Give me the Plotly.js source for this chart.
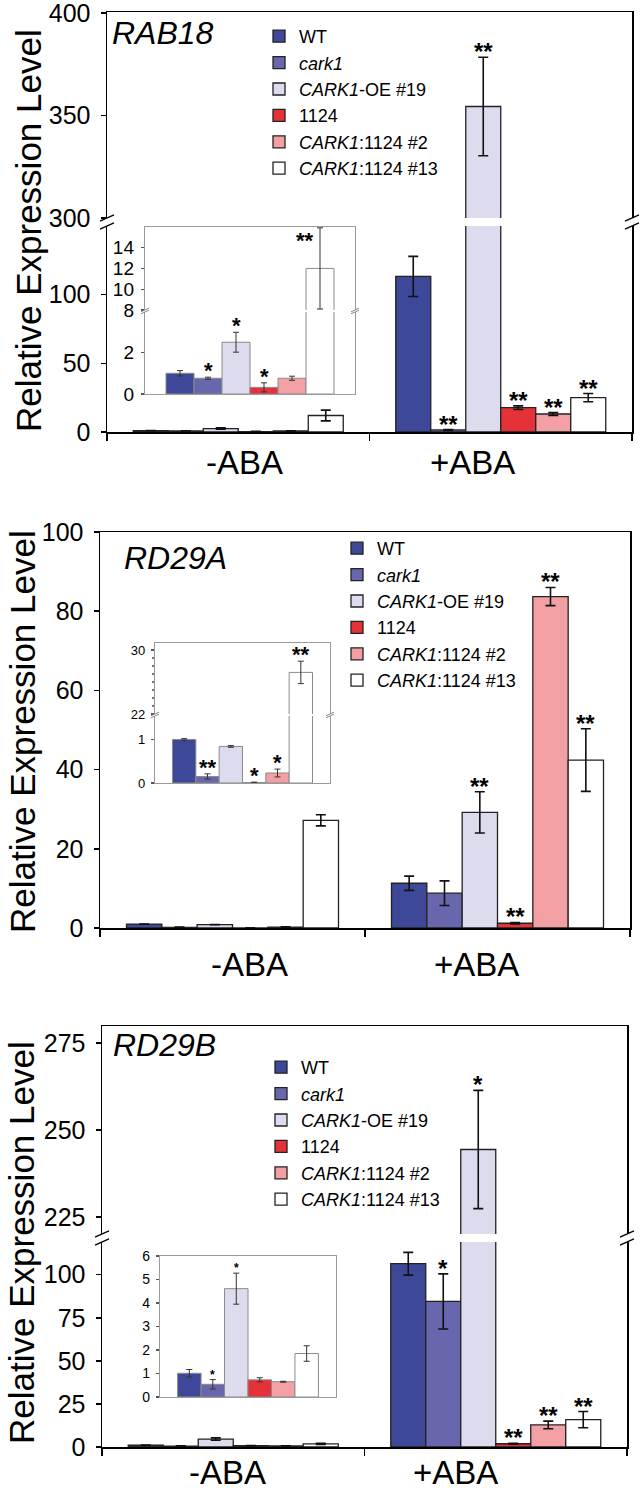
<!DOCTYPE html>
<html><head><meta charset="utf-8">
<script src="https://cdn.plot.ly/plotly-3.0.1.min.js"></script>
<style>html,body{margin:0;padding:0;background:#fff}</style>
</head><body><div id="chart" style="width:640px;height:1492px"></div>
<script>
// ---------------- DATA ----------------
const conditions = ['-ABA', '+ABA'];
const seriesNames = ['WT', '<i>cark1</i>', '<i>CARK1</i>-OE #19', '1124', '<i>CARK1</i>:1124 #2', '<i>CARK1</i>:1124 #13'];
const barColors = ['#3d4899', '#6866ad', '#dddcee', '#e53238', '#f2a0a3', '#ffffff'];

// per series: [-ABA, +ABA]
const rab18Values = [[1.0, 113.3], [0.76, 1.5], [2.5, 354.4], [0.32, 17.7], [0.76, 13.1], [12.0, 25.0]];
const rab18Errors = [[0.13, 14.6], [0.05, 0.3], [0.48, 24.0], [0.22, 1.3], [0.10, 1.0], [3.9, 3.0]];
const rab18Signif = [['', ''], ['*', '**'], ['*', '**'], ['*', '**'], ['', '**'], ['**', '**']];

const rd29aValues = [[1.0, 11.3], [0.15, 8.8], [0.84, 29.2], [0.01, 1.2], [0.23, 83.7], [27.2, 42.4]];
const rd29aErrors = [[0.02, 1.8], [0.06, 3.1], [0.02, 5.2], [0.01, 0.2], [0.09, 2.3], [1.4, 7.9]];
const rd29aSignif = [['', ''], ['**', ''], ['', '**'], ['*', '**'], ['*', '**'], ['**', '**']];

const rd29bValues = [[1.01, 106.4], [0.54, 84.5], [4.61, 244.4], [0.73, 1.9], [0.65, 12.8], [1.85, 15.9]];
const rd29bErrors = [[0.16, 6.6], [0.2, 16.0], [0.66, 17.0], [0.09, 0.3], [0.02, 2.2], [0.33, 4.7]];
const rd29bSignif = [['', ''], ['*', '*'], ['*', '*'], ['', '**'], ['', '**'], ['', '**']];

// ---------------- LAYOUT HELPERS ----------------
const W = 640, H = 1492;
const FONT = '"Liberation Sans", Arial, Helvetica, sans-serif';
const px2x = p => p / W;
const px2y = p => 1 - p / H;
const idx = (p, n) => n === 1 ? p : p + n;

const data = [];
const layout = {
  width: W, height: H, margin: {l: 0, r: 0, t: 0, b: 0},
  paper_bgcolor: '#ffffff', plot_bgcolor: 'rgba(0,0,0,0)',
  barmode: 'group', bargap: 0.2, bargroupgap: 0,
  font: {family: FONT, color: '#000'},
  showlegend: true, annotations: [], shapes: []
};

function barOffset(i) { return -0.4 + (0.8 / 6) * (i + 0.5); }

function addPanel(p) {
  const cats = p.cats;
  p.segs.forEach((s, si) => {
    const n = s.n;
    const xopt = {
      domain: [px2x(p.xL), px2x(p.xR)], anchor: idx('y', n),
      type: 'category', categoryorder: 'array', categoryarray: cats,
      range: [-0.5, cats.length - 0.5], showgrid: false, zeroline: false,
      showticklabels: false, fixedrange: true,
      linecolor: p.lineColor, linewidth: p.lineWidth
    };
    if (s.isBottom) {
      Object.assign(xopt, {showline: true, side: 'bottom', mirror: !!s.isTop,
        ticks: p.xTicks ? 'outside' : '', tickson: 'boundaries', ticklen: 7, tickwidth: 1.5, tickcolor: '#000'});
    } else if (s.isTop) {
      Object.assign(xopt, {showline: true, side: 'top', mirror: false, ticks: ''});
    } else {
      xopt.showline = false;
    }
    layout[idx('xaxis', n)] = xopt;
    const yopt = {
      domain: [px2y(s.bottom), px2y(s.top)], anchor: idx('x', n),
      range: s.range, tickmode: 'array', tickvals: s.tickvals,
      ticks: 'outside', ticklen: p.tickLen, tickwidth: p.lineWidth, tickcolor: p.tickColor,
      showline: true, mirror: true, linecolor: p.lineColor, linewidth: p.lineWidth,
      showgrid: false, zeroline: false, fixedrange: true,
      tickfont: {size: p.tickSize, family: FONT, color: '#000'},
      ticklabelstandoff: p.standoff, ticklabeloverflow: 'allow'
    };
    if (s.minor) yopt.minor = s.minor;
    layout[idx('yaxis', n)] = yopt;

    for (let i = 0; i < 6; i++) {
      const ys = [], es = [];
      p.catIdx.forEach(c => { ys.push(p.vals[i][c]); es.push(p.errs[i][c]); });
      data.push({
        type: 'bar', x: cats, y: ys, name: seriesNames[i],
        xaxis: idx('x', n), yaxis: idx('y', n),
        marker: {color: barColors[i], line: {color: p.barLine, width: p.barLineWidth}},
        error_y: {type: 'data', array: es, visible: true, color: p.errColor, thickness: p.errThick, width: p.errWidth},
        showlegend: !!(p.legend && si === 0), legend: p.legend || 'legend',
        hoverinfo: 'skip'
      });
    }
  });
  // significance stars
  for (let i = 0; i < 6; i++) {
    p.catIdx.forEach((c, k) => {
      const txt = p.sig[i][c];
      if (!p.starCats.includes(c) || !txt) return;
      const cap = p.vals[i][c] + p.errs[i][c];
      const seg = p.segs.find(s => cap >= s.range[0] && cap <= s.range[1]) || p.segs[0];
      const nearTop = (seg.range[1] - cap) < 0.06 * (seg.range[1] - seg.range[0]);
      layout.annotations.push({
        xref: idx('x', seg.n), yref: idx('y', seg.n),
        x: k + barOffset(i), y: cap, text: txt, showarrow: false,
        xanchor: nearTop ? 'right' : 'center', yanchor: nearTop ? 'top' : 'bottom',
        xshift: nearTop ? -4 : 0, yshift: nearTop ? 2 : p.starShift,
        font: {size: p.starSize, family: FONT, color: '#000', weight: 'bold'}
      });
    });
  }
}

function breakMark(x, y1, y2, len, color, w) {
  const d = len * 0.45;
  [y1, y2].forEach(y => {
    layout.shapes.push({type: 'line', xref: 'paper', yref: 'paper',
      x0: px2x(x - len), y0: px2y(y + d), x1: px2x(x + len), y1: px2y(y - d),
      line: {color: color, width: w}});
  });
}

const mainStyle = {lineColor: '#000', lineWidth: 1.5, tickColor: '#000', tickLen: 5, tickSize: 25, standoff: 5,
  barLine: '#222', barLineWidth: 1.3, errColor: '#111', errThick: 1.6, errWidth: 5, starSize: 24, starShift: -10, xTicks: true};
const insetBase = {lineColor: '#9a9a9a', lineWidth: 1.2, tickColor: '#555', tickLen: 3, standoff: 3,
  barLine: '#8a8a8a', barLineWidth: 1, errColor: '#333', errThick: 1, errWidth: 3, xTicks: false};

// ---------------- PANEL 1: RAB18 ----------------
addPanel(Object.assign({}, mainStyle, {
  cats: conditions, catIdx: [0, 1], starCats: [1],
  vals: rab18Values, errs: rab18Errors, sig: rab18Signif, legend: 'legend',
  xL: 107, xR: 632,
  segs: [
    {n: 1, top: 226, bottom: 432, range: [0, 150.0], tickvals: [0, 50, 100], isBottom: true},
    {n: 2, top: 12, bottom: 218, range: [300, 400.5], tickvals: [300, 350, 400], isTop: true}
  ]
}));
addPanel(Object.assign({}, insetBase, {
  cats: [conditions[0]], catIdx: [0], starCats: [0], tickSize: 19, starSize: 22, starShift: -8,
  vals: rab18Values, errs: rab18Errors, sig: rab18Signif,
  xL: 145, xR: 355,
  segs: [
    {n: 3, top: 312, bottom: 394, range: [0, 3.96], tickvals: [0, 2], isBottom: true},
    {n: 4, top: 227, bottom: 310, range: [8, 15.98], tickvals: [8, 10, 12, 14], isTop: true}
  ]
}));

// ---------------- PANEL 2: RD29A ----------------
addPanel(Object.assign({}, mainStyle, {
  cats: conditions, catIdx: [0, 1], starCats: [1],
  vals: rd29aValues, errs: rd29aErrors, sig: rd29aSignif, legend: 'legend2',
  xL: 100, xR: 630,
  segs: [
    {n: 5, top: 532, bottom: 928, range: [0, 100], tickvals: [0, 20, 40, 60, 80, 100], isBottom: true, isTop: true}
  ]
}));
addPanel(Object.assign({}, insetBase, {
  cats: [conditions[0]], catIdx: [0], starCats: [0], tickSize: 13, starSize: 22, starShift: -8,
  vals: rd29aValues, errs: rd29aErrors, sig: rd29aSignif,
  xL: 155, xR: 330,
  segs: [
    {n: 6, top: 716, bottom: 783, range: [0, 1.54], tickvals: [0, 1], isBottom: true},
    {n: 7, top: 643, bottom: 714, range: [22, 30.875], tickvals: [22, 30], isTop: true,
      minor: {dtick: 1, tick0: 22, ticks: 'outside', ticklen: 2, tickcolor: '#777', showgrid: false}}
  ]
}));

// ---------------- PANEL 3: RD29B ----------------
addPanel(Object.assign({}, mainStyle, {
  cats: conditions, catIdx: [0, 1], starCats: [1],
  vals: rd29bValues, errs: rd29bErrors, sig: rd29bSignif, legend: 'legend3',
  xL: 102, xR: 627,
  segs: [
    {n: 8, top: 1242, bottom: 1447, range: [0, 119], tickvals: [0, 25, 50, 75, 100], isBottom: true},
    {n: 9, top: 1026, bottom: 1234, range: [220.1, 279.9], tickvals: [225, 250, 275], isTop: true}
  ]
}));
addPanel(Object.assign({}, insetBase, {
  cats: [conditions[0]], catIdx: [0], starCats: [0], tickSize: 14, starSize: 12, starShift: -4,
  vals: rd29bValues, errs: rd29bErrors, sig: rd29bSignif,
  xL: 160, xR: 336,
  segs: [
    {n: 10, top: 1256, bottom: 1397, range: [0, 6], tickvals: [0, 1, 2, 3, 4, 5, 6], isBottom: true, isTop: true}
  ]
}));

// ---------------- BREAK MARKS ----------------
breakMark(107, 218, 226, 7, '#000', 1.3);
breakMark(632, 218, 226, 7, '#000', 1.3);
breakMark(102, 1234, 1242, 7, '#000', 1.3);
breakMark(627, 1234, 1242, 7, '#000', 1.3);
breakMark(145, 310, 312, 4, '#888', 1);
breakMark(355, 310, 312, 4, '#888', 1);
breakMark(155, 714, 716, 4, '#888', 1);
breakMark(330, 714, 716, 4, '#888', 1);

// ---------------- LEGENDS ----------------
const legendBase = {xref: 'paper', yref: 'paper', xanchor: 'left', yanchor: 'top',
  bgcolor: 'rgba(0,0,0,0)', borderwidth: 0, font: {size: 18, family: FONT, color: '#000'},
  tracegroupgap: 0, traceorder: 'normal', itemwidth: 30, itemclick: false, itemdoubleclick: false};
layout.legend = Object.assign({}, legendBase, {x: px2x(259), y: px2y(18)});
layout.legend2 = Object.assign({}, legendBase, {x: px2x(337), y: px2y(530)});
layout.legend3 = Object.assign({}, legendBase, {x: px2x(261), y: px2y(1049)});

// ---------------- TEXT ----------------
function txt(text, x, y, size, extra) {
  layout.annotations.push(Object.assign({xref: 'paper', yref: 'paper', x: px2x(x), y: px2y(y), text: text,
    showarrow: false, xanchor: 'center', yanchor: 'middle', font: {size: size, family: FONT, color: '#000'}}, extra || {}));
}
const yTitle = 'Relative Expression Level';
txt(yTitle, 28, 231, 35, {textangle: -90});
txt(yTitle, 22, 732, 35, {textangle: -90});
txt(yTitle, 21, 1243, 35, {textangle: -90});

txt('<i>RAB18</i>', 110, 33, 32, {xanchor: 'left'});
txt('<i>RD29A</i>', 122, 558, 32, {xanchor: 'left'});
txt('<i>RD29B</i>', 111, 1045, 32, {xanchor: 'left'});

const catLabelPos = [[244, 472, 463], [249, 476, 964], [227, 455, 1472]];
catLabelPos.forEach(c => {
  txt(conditions[0], c[0], c[2], 33);
  txt(conditions[1], c[1], c[2], 33);
});

Plotly.newPlot('chart', data, layout, {staticPlot: true, displayModeBar: false});
</script>
</body></html>
